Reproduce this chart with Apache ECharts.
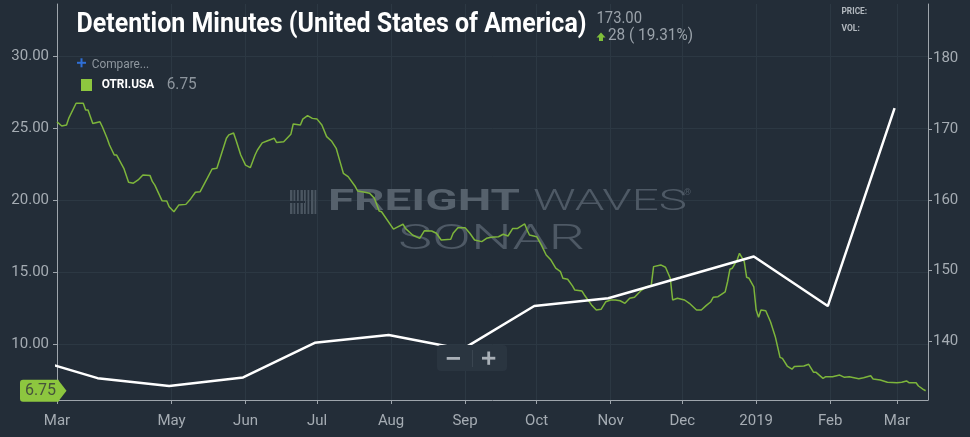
<!DOCTYPE html>
<html><head><meta charset="utf-8">
<script src="https://cdn.jsdelivr.net/npm/echarts@6/dist/echarts.min.js"></script>
<style>html,body{margin:0;padding:0;background:#232d38;}#c{width:970px;height:437px;}</style>
</head><body><div id="c"></div>
<script>
// ---------- data ----------
const seriesStart = '2018-03-14';
const axisEnd = '2019-03-14';
// OTRI.USA (left axis): days since seriesStart, and values
const otriDays = [0,2,4,5,8,11,12,13,15,18,19,21,22,24,25,28,30,32,34,36,39,40,41,44,46,47,49,51,54,56,58,60,63,65,67,69,71,72,74,75,77,79,81,83,84,86,88,91,92,95,98,99,102,103,105,107,109,111,113,115,117,118,120,122,125,126,129,131,133,135,136,141,142,145,146,149,152,154,157,159,161,165,166,168,171,173,175,178,180,182,185,187,189,191,193,196,197,198,201,203,205,207,209,211,212,214,216,217,220,221,224,226,228,230,232,234,236,238,240,242,245,247,249,250,253,255,257,258,260,263,265,268,270,272,274,275,277,280,281,282,283,285,286,288,289,290,292,293,294,295,297,299,301,303,304,306,308,309,313,315,317,318,321,322,325,328,330,332,336,338,341,342,345,348,352,354,356,357,360,361,363,364];
const otriValues = [25.45,25.16,25.23,25.73,26.74,26.74,26.27,26.27,25.34,25.45,25.11,24.31,23.84,23.14,23.14,22.22,21.25,21.18,21.41,21.75,21.71,21.29,21.05,19.97,19.95,19.54,19.20,19.66,19.71,20.09,20.55,20.59,21.53,22.17,22.22,23.26,24.31,24.54,24.67,24.19,23.14,22.44,22.26,23.14,23.49,23.99,24.12,24.31,24.02,24.06,24.58,25.30,25.23,25.64,25.88,25.69,25.64,25.23,24.42,24.12,23.61,23.03,21.87,21.64,20.95,20.64,20.55,20.48,20.13,19.25,19.20,17.99,18.08,18.33,18.04,17.58,17.35,17.88,17.86,17.70,17.23,17.28,17.70,18.08,18.08,17.70,17.23,17.12,17.35,17.42,17.46,17.63,17.51,18.04,18.04,18.35,17.93,17.58,17.46,16.88,16.19,15.84,15.27,15.03,14.57,14.50,14.04,13.75,13.68,13.41,12.72,12.36,12.41,12.94,13.06,13.06,13.01,12.83,13.18,13.25,13.75,13.98,14.04,15.38,15.50,15.34,14.57,13.06,13.18,13.06,12.83,12.36,12.36,12.67,12.94,13.25,13.29,13.63,14.33,15.20,15.27,15.84,16.31,15.73,14.64,14.57,13.98,12.36,11.86,12.36,12.31,11.55,10.51,9.07,9.00,8.47,8.25,8.44,8.47,8.59,8.04,8.04,7.61,7.72,7.72,7.84,7.68,7.72,7.59,7.66,7.79,7.57,7.50,7.34,7.31,7.34,7.43,7.31,7.31,7.08,6.85,6.75];
// Detention Minutes (right axis), monthly
const detentionDates = ['2018-02-28','2018-03-31','2018-04-30','2018-05-31','2018-06-30','2018-07-31','2018-08-31','2018-09-30','2018-10-31','2018-11-30','2018-12-31','2019-01-31','2019-02-28'];
const detentionValues = [137.9,134.8,133.7,134.9,139.8,140.9,138.9,145.0,146.1,149.0,152.0,145.0,173.0];
// ticks
const xTickDates = ['2018-03-14','2018-05-01','2018-06-01','2018-07-01','2018-08-01','2018-09-01','2018-10-01','2018-11-01','2018-12-01','2019-01-01','2019-02-01','2019-03-01'];
const xTickLabels = ['Mar','May','Jun','Jul','Aug','Sep','Oct','Nov','Dec','2019','Feb','Mar'];
const leftTicks = [10,15,20,25,30];
const rightTicks = [140,150,160,170,180];
const titleText = 'Detention Minutes (United States of America)';
const lastPrice = '173.00';
const changeText = '28 ( 19.31%)';
const legendName = 'OTRI.USA';

// ---------- helpers ----------
function ts(s){const p=s.split('-').map(Number);return Date.UTC(p[0],p[1]-1,p[2]);}
const DAY = 86400000;
const t0 = ts(seriesStart);
const otriData = otriDays.map((d,i)=>[t0+d*DAY, otriValues[i]]);
const detData = detentionDates.map((d,i)=>[ts(d), detentionValues[i]]);
const xTickValues = xTickDates.map(ts);
const lastOtri = otriValues[otriValues.length-1];

const mctx = document.createElement('canvas').getContext('2d');
function tw(text, weight, size, family){mctx.font = weight+' '+size+'px '+family; return mctx.measureText(text).width;}
function fitText(text, x, y, weight, size, family, targetW, fill, extra){
  const w = tw(text, weight, size, family);
  return Object.assign({type:'text', x:x, y:y, scaleX: targetW/w, z: 5,
    style:{text:text, fill:fill, fontWeight:weight, fontSize:size, fontFamily:family, align:'left', verticalAlign:'middle'}}, extra||{});
}

const axisColor = '#9ea5ac';
const labelColor = '#a5acb3';
const gridColor = '#2c3843';
const bg = '#232d38';

const chart = echarts.init(document.getElementById('c'), null, {renderer:'canvas'});

function nearestLabel(v){
  let best=0, bd=Infinity;
  xTickValues.forEach((t,i)=>{const d=Math.abs(t-v); if(d<bd){bd=d;best=i;}});
  return bd < 3*DAY ? xTickLabels[best] : '';
}

const option = {
  backgroundColor: bg,
  animation: false,
  grid: {left:57, right:42, top:4, bottom:37, containLabel:false},
  xAxis: {
    type:'value', min: t0, max: ts(axisEnd), scale:true,
    axisLine:{show:true, lineStyle:{color:axisColor, width:1}},
    axisTick:{show:true, length:4, customValues: xTickValues, lineStyle:{color:axisColor}},
    axisLabel:{show:true, customValues: xTickValues, formatter: (v)=>nearestLabel(v), color:labelColor, fontSize:15, fontFamily:'Roboto', margin:14, hideOverlap:false},
    splitLine:{show:true, lineStyle:{color:gridColor, width:1}}
  },
  yAxis: [
    {type:'value', position:'left', min:6.106, max:33.644, scale:true,
     axisLine:{show:true, lineStyle:{color:axisColor, width:1}},
     axisTick:{show:true, length:4, customValues:leftTicks, lineStyle:{color:axisColor}},
     axisLabel:{show:true, customValues:leftTicks, formatter:(v)=>Number(v).toFixed(2), color:labelColor, fontSize:15, fontFamily:'Roboto', margin:8},
     splitLine:{show:true, lineStyle:{color:gridColor, width:1}}},
    {type:'value', position:'right', min:131.71, max:187.72, scale:true,
     axisLine:{show:true, lineStyle:{color:axisColor, width:1}},
     axisTick:{show:true, length:4, customValues:rightTicks, lineStyle:{color:axisColor}},
     axisLabel:{show:true, customValues:rightTicks, formatter:(v)=>String(Math.round(v)), color:labelColor, fontSize:15, fontFamily:'Roboto', margin:5},
     splitLine:{show:false}}
  ],
  series: [
    {name:legendName, type:'line', yAxisIndex:0, data: otriData, showSymbol:false, symbol:'none',
     lineStyle:{color:'#7db53b', width:1.5}, itemStyle:{color:'#7db53b'}, z:2},
    {name:'Detention Minutes', type:'line', yAxisIndex:1, data: detData, showSymbol:false, symbol:'none',
     lineStyle:{color:'#ffffff', width:2.5}, itemStyle:{color:'#ffffff'}, z:3}
  ]
};
chart.setOption(option);

// ---------- overlay graphics ----------
const tagY = chart.convertToPixel({yAxisIndex:0}, lastOtri);
const graphics = [];
// watermark (under series)
const wmDark = '#56616c', wmLight = '#4e5965';
const logoBars = [0,3.5,7,10.5,14,17.5,21,24.5];
logoBars.forEach((bx,i)=>{
  graphics.push({type:'rect', x:290+bx, y:190, shape:{width: (i%3===0?2.4:1.8), height:24}, style:{fill:'#4b5661'}, z:0});
});
graphics.push({type:'rect', x:289, y:201, shape:{width:16, height:2}, style:{fill:bg}, z:0});
graphics.push(fitText('FREIGHT', 328, 202.5, 'bold', 30, 'Roboto', 192, wmDark, {z:0}));
graphics.push(fitText('WAVES', 533, 202.5, '300', 30, 'Roboto', 154, wmLight, {z:0}));
graphics.push({type:'text', x:684, y:193, z:0, style:{text:'®', fill:wmLight, fontSize:9, fontFamily:'Roboto', align:'left', verticalAlign:'middle'}});
graphics.push(fitText('SONAR', 398, 240.5, '300', 35, 'Roboto', 187, wmLight, {z:0}));

// title and header
graphics.push(fitText(titleText, 76.5, 25, 'bold', 28, 'Roboto', 510, '#ffffff'));
graphics.push(fitText(lastPrice, 596.5, 18.5, 'normal', 16, 'Roboto', 45.5, '#9aa2aa'));
graphics.push({type:'polygon', z:5, shape:{points:[[601,32.5],[605.5,37.5],[603,37.5],[603,41],[599,41],[599,37.5],[596.5,37.5]]}, style:{fill:'#7fbf3a'}});
graphics.push(fitText(changeText, 608, 36, 'normal', 16, 'Roboto', 85, '#9aa2aa'));
graphics.push(fitText('PRICE:', 841.5, 11.7, 'bold', 9.5, 'Roboto', 25.6, '#b3b9bf'));
graphics.push(fitText('VOL:', 841.5, 28.3, 'bold', 9.5, 'Roboto', 18.3, '#b3b9bf'));

// compare + legend
graphics.push({type:'rect', z:5, x:77, y:61.8, shape:{width:9, height:2}, style:{fill:'#2f6fd6'}});
graphics.push({type:'rect', z:5, x:80.5, y:58.3, shape:{width:2, height:9}, style:{fill:'#2f6fd6'}});
graphics.push(fitText('Compare...', 91.7, 65, 'normal', 12.5, 'Roboto', 57.5, '#8f979f'));
graphics.push({type:'rect', z:5, x:81, y:79, shape:{width:11, height:12}, style:{fill:'#8dc63f'}});
graphics.push(fitText(legendName, 101.7, 85, 'bold', 13, 'Roboto', 52.6, '#ffffff'));
graphics.push(fitText(String(lastOtri.toFixed(2)), 166.7, 85, 'normal', 16, 'Roboto', 30, '#8d959d'));

// last value tag on the left axis
graphics.push({type:'rect', z:100, x:20, y:tagY-11, shape:{width:38.5, height:22, r:[3,0,0,3]}, style:{fill:'#8dc63f'}});
graphics.push({type:'polygon', z:100, shape:{points:[[58,tagY-11],[66.5,tagY],[58,tagY+11]]}, style:{fill:'#8dc63f'}});
graphics.push({type:'text', z:101, x:40.5, y:tagY, style:{text:lastOtri.toFixed(2), fill:'#46523c', fontSize:16, fontFamily:'Roboto', align:'center', verticalAlign:'middle'}});

// zoom buttons
graphics.push({type:'rect', z:100, x:437, y:345, shape:{width:70, height:26, r:4}, style:{fill:'#2a3540'}});
graphics.push({type:'rect', z:101, x:446.7, y:357, shape:{width:13.3, height:2.8}, style:{fill:'#a9b0b7'}});
graphics.push({type:'rect', z:101, x:472, y:350, shape:{width:1, height:17}, style:{fill:'#3a4550'}});
graphics.push({type:'rect', z:101, x:482, y:356.8, shape:{width:13.3, height:2.8}, style:{fill:'#a9b0b7'}});
graphics.push({type:'rect', z:101, x:487.3, y:351.5, shape:{width:2.8, height:13.3}, style:{fill:'#a9b0b7'}});

chart.setOption({graphic: graphics});
</script></body></html>
